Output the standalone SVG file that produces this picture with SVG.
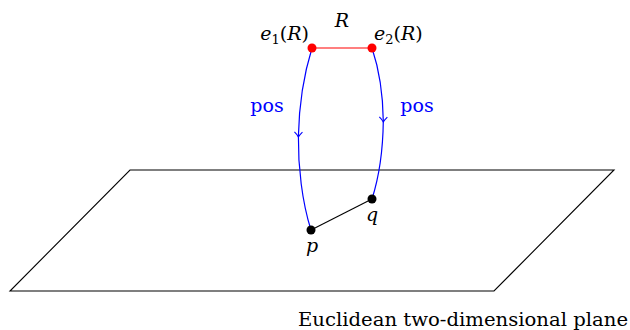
<svg xmlns="http://www.w3.org/2000/svg" width="630" height="330" viewBox="0 0 630 330">
<style>
.m{font-family:"DejaVu Serif",serif;font-size:19px;fill:#000}
.i{font-style:italic}
.b{fill:#0000ff}
.blue{fill:none;stroke:#0000ff;stroke-width:1.2}
</style>
<defs>
<marker id="arr" viewBox="-6 -6 12 12" markerWidth="12" markerHeight="12" markerUnits="userSpaceOnUse" orient="auto" refX="0" refY="0">
<path d="M-4,-4 Q-1,-1 1,0 Q-1,1 -4,4" fill="none" stroke="#0000ff" stroke-width="1.1"/>
</marker>
</defs>
<g id="plane"><polygon points="130,170 614,170 494,291 10,291" fill="none" stroke="#000" stroke-width="1.1"/></g>
<g id="connectors">
<line x1="312" y1="48" x2="372" y2="48" stroke="#ff0000" stroke-width="1.1"/>
<path class="blue" d="M312,48 C304,74 299,108 298.4,136"/>
<path class="blue" d="M298.4,136 C298,166 302,202 311,230" marker-start="url(#arr)"/>
<path class="blue" d="M372,48 C379,69 383,95 383.3,121"/>
<path class="blue" d="M383.3,121 C383,146 380,174 372,199" marker-start="url(#arr)"/>
<line x1="311" y1="230" x2="372" y2="199" stroke="#000" stroke-width="1.1"/>
</g>
<g id="e1"><circle cx="312" cy="48" r="4.5" fill="#ff0000"/><text class="m" x="309" y="40" text-anchor="end"><tspan class="i">e</tspan><tspan font-size="13" dy="4">1</tspan><tspan dy="-4">(</tspan><tspan class="i">R</tspan>)</text></g>
<g id="e2"><circle cx="372" cy="48" r="4.5" fill="#ff0000"/><text class="m" x="374" y="40"><tspan class="i">e</tspan><tspan font-size="13" dy="4">2</tspan><tspan dy="-4">(</tspan><tspan class="i">R</tspan>)</text></g>
<text class="m i" x="342" y="27" text-anchor="middle">R</text>
<g id="p"><circle cx="311" cy="230" r="4.5" fill="#000"/><text class="m i" x="312" y="252" text-anchor="middle">p</text></g>
<g id="q"><circle cx="372" cy="199" r="4.5" fill="#000"/><text class="m i" x="372" y="221" text-anchor="middle">q</text></g>
<text class="m b" x="267" y="112" text-anchor="middle">pos</text>
<text class="m b" x="417" y="112" text-anchor="middle">pos</text>
<text class="m" x="298" y="326" textLength="330" lengthAdjust="spacingAndGlyphs">Euclidean two-dimensional plane</text>
</svg>
